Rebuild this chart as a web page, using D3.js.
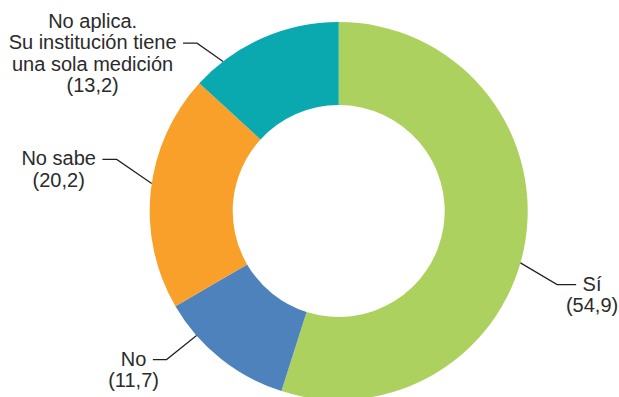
<!DOCTYPE html>
<html>
<head>
<meta charset="utf-8">
<script src="https://cdn.jsdelivr.net/npm/d3@7"></script>
<style>
  html, body { margin: 0; padding: 0; background: #ffffff; }
  svg { display: block; }
</style>
</head>
<body>
<svg id="chart" width="619" height="397"></svg>
<script>
// Responses, clockwise from 12 o'clock
const categories = ["Sí", "No", "No sabe", "No aplica"];
const values = [54.9, 11.7, 20.2, 13.2];
const labelLines = [
  ["Sí"],
  ["No"],
  ["No sabe"],
  ["No aplica.", "Su institución tiene", "una sola medición"]
];
const colors = ["#acd15e", "#4e82bd", "#f8a02a", "#0aa8af"];

// Leader-line layout: where along the slice the line meets the ring (0..1),
// elbow offset from that point, length of horizontal run, side, aligned text line
const leaders = [
  { frac: 0.536, ex: 36.7, ey: 21.7, h: 19, side: 1, line: 0 },
  { frac: 0.739, ex: -30, ey: 24, h: 13.7, side: -1, line: 0 },
  { frac: 0.531, ex: -35, ey: -24, h: 14.3, side: -1, line: 0 },
  { frac: 0.206, ex: -26, ey: -18.3, h: 14, side: -1, line: 1 }
];

const width = 619, height = 397;
const cx = 338.7, cy = 211;
const outerR = 189, innerR = 106;
const fontSize = 20, lineGap = 21.5, textGap = 6.5;

const svg = d3.select("#chart");
const g = svg.append("g").attr("transform", `translate(${cx},${cy})`);

const data = categories.map((c, i) => ({ cat: c, value: values[i], i }));
const pie = d3.pie().sort(null).value(d => d.value).startAngle(0).endAngle(2 * Math.PI);
const arcs = pie(data);
const arc = d3.arc().innerRadius(innerR).outerRadius(outerR);

g.selectAll("path.slice")
  .data(arcs)
  .join("path")
  .attr("class", "slice")
  .attr("d", arc)
  .attr("fill", d => colors[d.data.i]);

const fmt = v => "(" + d3.format(".1f")(v).replace(".", ",") + ")";

arcs.forEach(a => {
  const i = a.data.i;
  const L = leaders[i];
  const ang = a.startAngle + (a.endAngle - a.startAngle) * L.frac;
  const p0 = [Math.sin(ang) * outerR, -Math.cos(ang) * outerR];
  const p1 = [p0[0] + L.ex, p0[1] + L.ey];
  const p2 = [p1[0] + L.side * L.h, p1[1]];

  g.append("polyline")
    .attr("points", [p0, p1, p2].map(p => p.join(",")).join(" "))
    .attr("fill", "none")
    .attr("stroke", "#231f20")
    .attr("stroke-width", 1.2);

  const lines = labelLines[i].concat([fmt(a.data.value)]);
  const text = g.append("text")
    .attr("font-family", "'Liberation Sans', Arial, Helvetica, sans-serif")
    .attr("font-size", fontSize)
    .attr("fill", "#2b2b2b")
    .attr("text-anchor", "middle");
  const tspans = lines.map(s => text.append("tspan").text(s));
  const alignW = tspans[L.line].node().getComputedTextLength();
  const tx = p2[0] + L.side * (textGap + alignW / 2);
  const baseY = p2[1] + 6 - L.line * lineGap;
  tspans.forEach((t, k) => t.attr("x", tx).attr("y", baseY + k * lineGap));
});
</script>
</body>
</html>
